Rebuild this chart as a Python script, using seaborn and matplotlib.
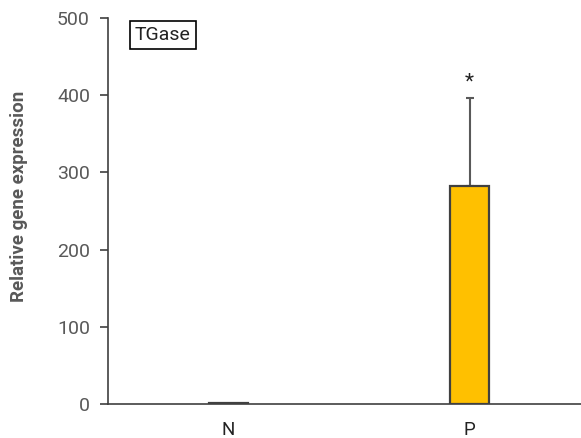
import matplotlib
matplotlib.use("Agg")
import matplotlib.pyplot as plt
import seaborn as sns
import pandas as pd

categories = ["N", "P"]
values = [1.0, 282.0]
errors = [0.0, 114.0]
significance = ["", "*"]
yticks = [0, 100, 200, 300, 400, 500]
title = "TGase"
ylabel = "Relative gene expression"

sns.set_style("white")
plt.rcParams['font.family'] = ['Roboto', 'DejaVu Sans']

df = pd.DataFrame({"group": categories, "value": values})

fig = plt.figure(figsize=(5.81, 4.38), dpi=100)
ax = fig.add_axes([108/581, (438-404)/438, 482/581, (404-18)/438])

sns.barplot(data=df, x="group", y="value", color="#FFC000", saturation=1, width=0.165,
            edgecolor="#404040", linewidth=1.6, ax=ax, errorbar=None, zorder=2)

for i, (v, e) in enumerate(zip(values, errors)):
    if e > 0:
        ax.errorbar(i, v, yerr=[[0], [e]], fmt="none", ecolor="#595959",
                    elinewidth=1.5, capsize=3, capthick=1.5, zorder=1)
    if significance[i]:
        ax.text(i, v + e + 9, significance[i], ha="center", va="bottom",
                fontsize=15, color="#222222")

ax.set_xlim(-0.5, 1.5)
ax.set_ylim(0, 500)
ax.set_yticks(yticks)
ax.set_yticklabels([str(t) for t in yticks], color="#595959", fontsize=14)
ax.tick_params(axis="y", direction="out", length=6, width=1.2, color="#404040", left=True, pad=7)
ax.tick_params(axis="x", length=0, labelsize=13.5, labelcolor="#222222", pad=12)
ax.set_xlabel("")
ax.set_ylabel(ylabel, fontsize=13.5, fontweight="bold", color="#595959")
ax.yaxis.set_label_coords(-0.165, 0.537)

for s in ["top", "right"]:
    ax.spines[s].set_visible(False)
for s in ["left", "bottom"]:
    ax.spines[s].set_color("#404040")
    ax.spines[s].set_linewidth(1.2)

ax.text(0.056, 0.98, title, transform=ax.transAxes, ha="left", va="top",
        fontsize=14, color="#222222",
        bbox=dict(boxstyle="square,pad=0.25", facecolor="white", edgecolor="black", linewidth=1.2))

fig.savefig("out.png", dpi=100)
